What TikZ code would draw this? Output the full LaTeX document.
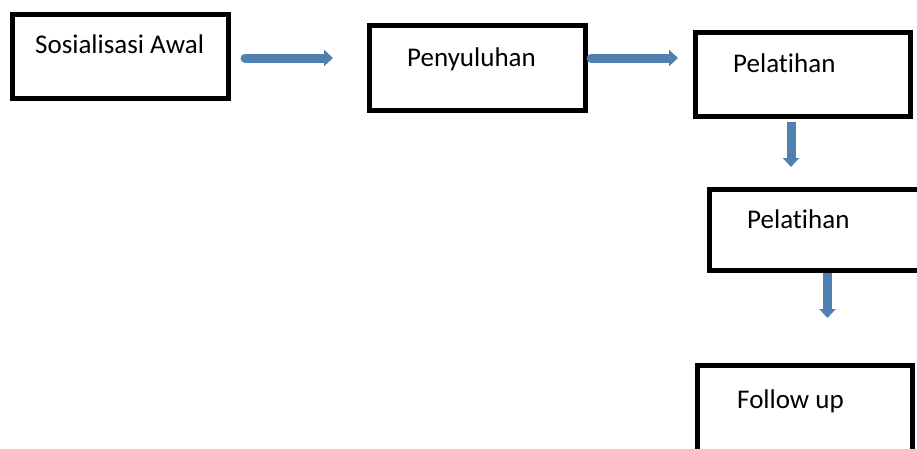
\documentclass[tikz,border=0pt]{standalone}
\usepackage{fontspec}
\setmainfont{Carlito}[Ligatures=NoCommon]
\usetikzlibrary{arrows.meta}
\definecolor{arrblue}{HTML}{5080B0}
\tikzset{
  box/.style={draw=black, line width=5pt, inner sep=0pt, outer sep=0pt, fill=none},
  lbl/.style={anchor=base west, inner sep=0pt, font=\fontsize{27}{32}\selectfont},
  arr/.style={draw=arrblue, line width=9pt, -{Triangle[width=16pt,length=9pt]}},
}
\begin{document}
\begin{tikzpicture}[x=1pt,y=-1pt]
\clip (0,0) rectangle (917,448);
\fill[white] (0,0) rectangle (917,448);
\node[box, minimum width=216pt, minimum height=84pt] (b1) at (120.5,56.5) {};
\node[box, minimum width=216pt, minimum height=84.5pt] (b2) at (477,67.75) {};
\node[box, minimum width=215pt, minimum height=84.5pt] (b3) at (803,74.25) {};
\node[box, minimum width=220.5pt, minimum height=81pt] (b4) at (819.75,230) {};
\node[box, minimum width=215pt, minimum height=104.5pt] (b5) at (805,417.75) {};
\node[lbl] (t1) at (35,53) {Sosialisasi Awal};
\node[lbl] (t2) at (407,66) {Penyuluhan};
\node[lbl] (t3) at (733,72) {Pelatihan};
\node[lbl] (t4) at (747,228) {Pelatihan};
\node[lbl] (t5) at (737,408) {Follow up};
\draw[arr, line cap=round] ([xshift=16.5pt,yshift=-1.5pt]b1.east) -- ([xshift=-36pt,yshift=9.75pt]b2.west);
\draw[arr, line cap=round] ([xshift=6pt,yshift=9.75pt]b2.east) -- ([xshift=-17.5pt,yshift=16.25pt]b3.west);
\draw[arr] ([xshift=-12pt,yshift=-5.5pt]b3.south) -- ([xshift=-28.75pt,yshift=22.5pt]b4.north);
\draw[arr] ([xshift=7.75pt,yshift=-2.5pt]b4.south) -- ([xshift=22.5pt,yshift=47.5pt]b5.north);
\end{tikzpicture}
\end{document}
